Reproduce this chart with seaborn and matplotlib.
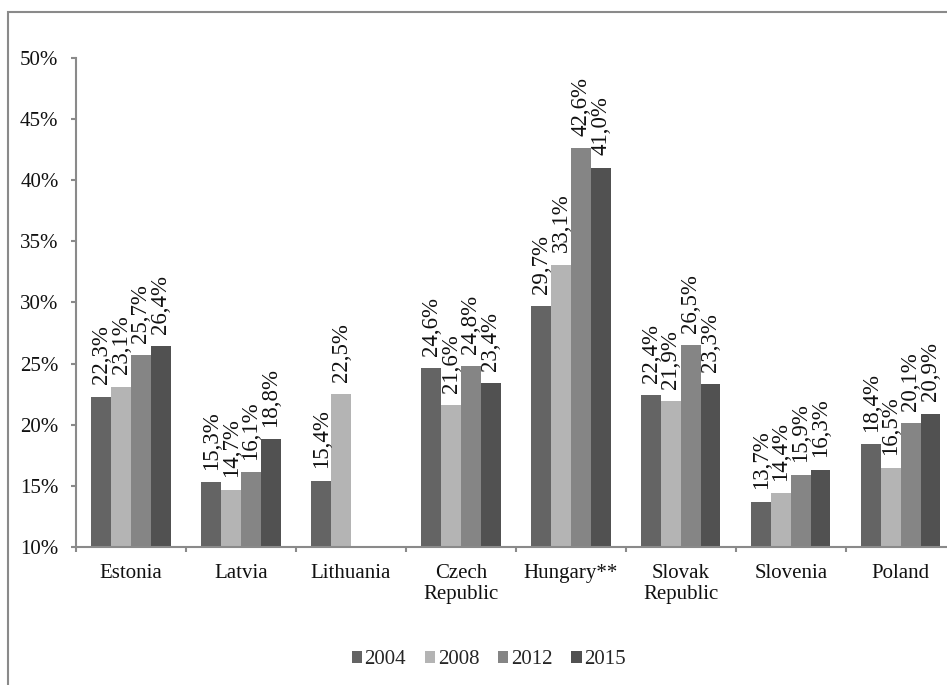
import numpy as np
import pandas as pd
import seaborn as sns
import matplotlib.pyplot as plt
from matplotlib.patches import Rectangle
from matplotlib.ticker import FuncFormatter, FixedLocator

countries = ["Estonia", "Latvia", "Lithuania", "Czech\nRepublic", "Hungary**",
             "Slovak\nRepublic", "Slovenia", "Poland"]
years = ["2004", "2008", "2012", "2015"]
v2004 = [22.3, 15.3, 15.4, 24.6, 29.7, 22.4, 13.7, 18.4]
v2008 = [23.1, 14.7, 22.5, 21.6, 33.1, 21.9, 14.4, 16.5]
v2012 = [25.7, 16.1, 0.0, 24.8, 42.6, 26.5, 15.9, 20.1]
v2015 = [26.4, 18.8, 0.0, 23.4, 41.0, 23.3, 16.3, 20.9]
colors = ["#646464", "#b4b4b4", "#858585", "#515151"]

rows = []
for yr, vals in zip(years, [v2004, v2008, v2012, v2015]):
    for c, v in zip(countries, vals):
        rows.append({"country": c, "year": yr, "value": v / 100})
df = pd.DataFrame(rows)

sns.set_theme(style="white")
plt.rcParams["font.family"] = ["Liberation Serif", "DejaVu Serif"]

fig = plt.figure(figsize=(9.47, 6.85), dpi=100)
ax = fig.add_axes([0.0803, 0.2015, 0.929, 0.7139])

sns.barplot(data=df, x="country", y="value", hue="year", order=countries,
            hue_order=years, palette=colors, width=0.72, gap=0,
            saturation=1, errorbar=None, ax=ax, legend=True, linewidth=0)

ax.set_ylim(0.10, 0.50)
ax.set_xlim(-0.5, len(countries) - 0.5)
ax.yaxis.set_major_locator(FixedLocator(np.arange(0.10, 0.501, 0.05)))
ax.yaxis.set_major_formatter(FuncFormatter(lambda v, p: f"{v*100:.0f}%"))
ax.set_xlabel("")
ax.set_ylabel("")

for container, vals in zip(ax.containers, [v2004, v2008, v2012, v2015]):
    labels = ["" if v == 0 else f"{v:.1f}%".replace(".", ",") for v in vals]
    ax.bar_label(container, labels=labels, rotation=90, padding=9,
                 fontsize=16.5, color="#111111")

spine_color = "#8a8a8a"
for s in ["top", "right"]:
    ax.spines[s].set_visible(False)
for s in ["left", "bottom"]:
    ax.spines[s].set_color(spine_color)
    ax.spines[s].set_linewidth(1.5)

ax.tick_params(axis="y", which="major", left=True, length=3.6, width=1.5,
               color=spine_color, labelsize=15, pad=9, labelcolor="#111111")
ax.set_xticks(np.arange(len(countries)))
ax.set_xticklabels(countries)
ax.set_xticks(np.arange(-0.5, len(countries), 1.0), minor=True)
ax.tick_params(axis="x", which="major", bottom=False, length=0, labelsize=15,
               pad=12, labelcolor="#111111")
ax.tick_params(axis="x", which="minor", bottom=True, length=3.6, width=1.5,
               color=spine_color)

leg = ax.legend(loc="center", bbox_to_anchor=(0.516, 0.037),
                bbox_transform=fig.transFigure, ncol=4, frameon=False,
                fontsize=15, handlelength=0.5, handleheight=0.5,
                handletextpad=0.12, columnspacing=0.9)

fig.patches.append(Rectangle((8 / 947, -0.1), 1.2, 1 - 12 / 685 + 0.1,
                             transform=fig.transFigure, fill=False,
                             edgecolor="#8a8a8a", linewidth=1.5))

fig.savefig("out.png", dpi=100)
